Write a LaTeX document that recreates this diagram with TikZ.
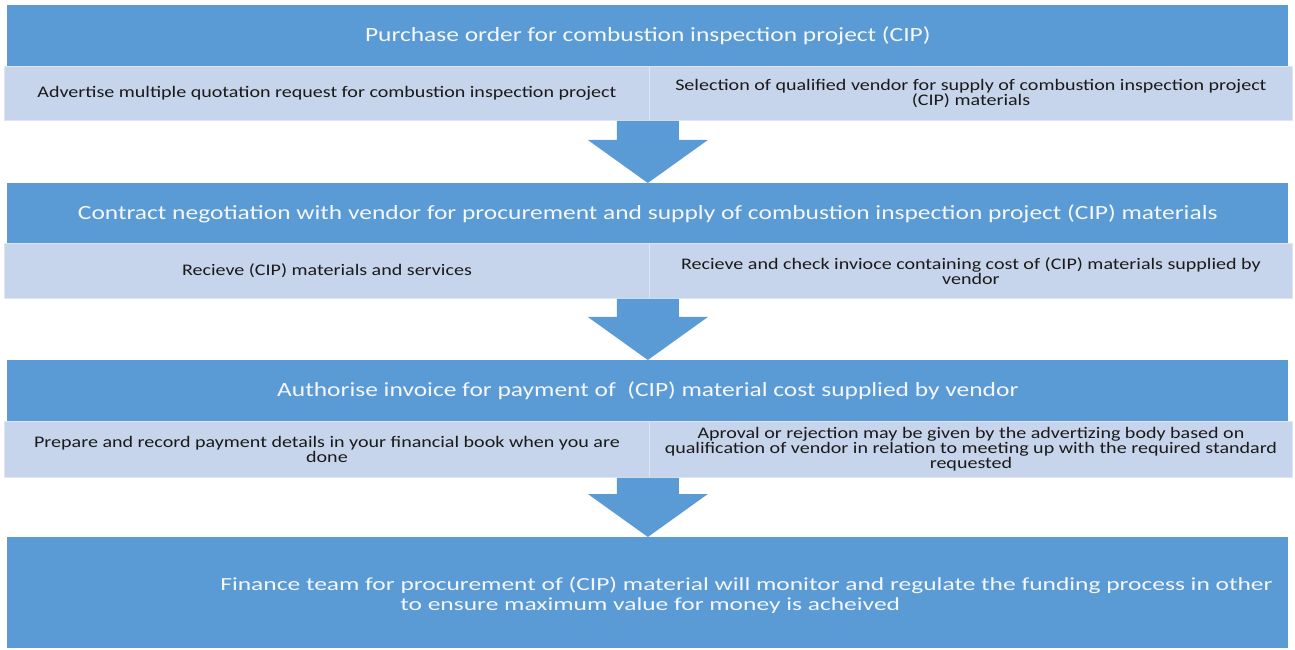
\documentclass[tikz,border=0pt]{standalone}
\usepackage{fontspec}
\setmainfont{Carlito}
\newfontfamily\headfont[FakeStretch=1.26]{Carlito}
\newfontfamily\taskfont[FakeStretch=1.24]{Carlito}
\newfontfamily\notefont[FakeStretch=1.38]{Carlito}
\usepackage{tikz}
\usepackage{xcolor}
\usetikzlibrary{calc}
\definecolor{cipblue}{HTML}{5B9BD5}
\definecolor{cipblued}{HTML}{C6D5EB}
\definecolor{cipline}{HTML}{DDE6F2}
\definecolor{cipink}{HTML}{1A1A1A}
\definecolor{cipwhite}{HTML}{F4F7FB}
\tikzset{
  stage/.style     = {fill=cipblue, draw=none, anchor=north west, inner sep=0pt,
                      minimum width=25.62cm, minimum height=1.22cm,
                      align=center, text=cipwhite,
                      font=\headfont\fontsize{11.5}{12}\selectfont},
  task/.style      = {fill=cipblued, draw=cipline, line width=0.5pt,
                      anchor=north west, inner sep=0pt, align=center,
                      minimum height=1.08cm, text=cipink,
                      font=\taskfont\fontsize{9.2}{8.5}\selectfont},
  taskl/.style     = {task, minimum width=12.90cm},
  taskr/.style     = {task, minimum width=12.86cm},
  blockarrow/.style = {fill=cipblue, draw=none},
}

\begin{document}
\begin{tikzpicture}
  \useasboundingbox (0,0) rectangle (25.9,-13.0);

  % ---------- stage 1 ------------------------------------------------------
  \node[stage] (purchase) at (0.14,-0.10)
    {Purchase order for combustion inspection project (CIP)};
  \node[taskl] (advert) at (0.08,-1.32)
    {Advertise multiple quotation request for combustion inspection project};
  \node[taskr] (select) at (12.98,-1.32)
    {Selection of qualified vendor for supply of combustion inspection project\\
     (CIP) materials};

  % ---------- stage 2 ------------------------------------------------------
  \node[stage, minimum height=1.20cm] (contract) at (0.14,-3.66)
    {Contract negotiation with vendor for procurement and supply of combustion
     inspection project (CIP) materials};
  \node[taskl, minimum height=1.10cm] (receive) at (0.08,-4.86)
    {Recieve (CIP) materials and services};
  \node[taskr, minimum height=1.10cm] (check) at (12.98,-4.86)
    {Recieve and check invioce containing cost of (CIP) materials supplied by\\
     vendor};

  % ---------- stage 3 ------------------------------------------------------
  \node[stage] (authorise) at (0.14,-7.20)
    {Authorise invoice for payment of \ (CIP) material cost supplied by vendor};
  \node[taskl, minimum height=1.12cm] (prepare) at (0.08,-8.42)
    {Prepare and record payment details in your financial book when you are\\
     done};
  \node[taskr, minimum height=1.12cm] (approve) at (12.98,-8.42)
    {Aproval or rejection may be given by the advertizing body based on\\
     qualification of vendor in relation to meeting up with the required standard\\
     requested};

  % ---------- stage 4 ------------------------------------------------------
  \node[stage, minimum height=2.22cm] (finance) at (0.14,-10.74) {};
  \node[text=cipwhite, anchor=west, align=left, inner sep=0pt,
        font=\notefont\fontsize{10.5}{11.3}\selectfont] (financetxt)
    at ([xshift=4.26cm, yshift=-0.05cm]finance.west)
    {Finance team for procurement of (CIP) material will monitor and regulate
     the funding process in other\\
     \hspace*{3.6cm}to ensure maximum value for money is acheived};

  % ---------- block arrows between the stages ------------------------------
  \foreach \a/\b in {advert/contract, receive/authorise, prepare/finance} {
    \coordinate (top) at (\a.south east -| \b.north);
    \fill[blockarrow] (\b.north) -- ++(-1.2,0.86) -- ++(0.58,0)
      -- ($(top)+(-0.62,0)$) -- ($(top)+(0.62,0)$)
      -- ($(\b.north)+(0.62,0.86)$) -- ++(0.58,0) -- cycle;
  }

\end{tikzpicture}
\end{document}
